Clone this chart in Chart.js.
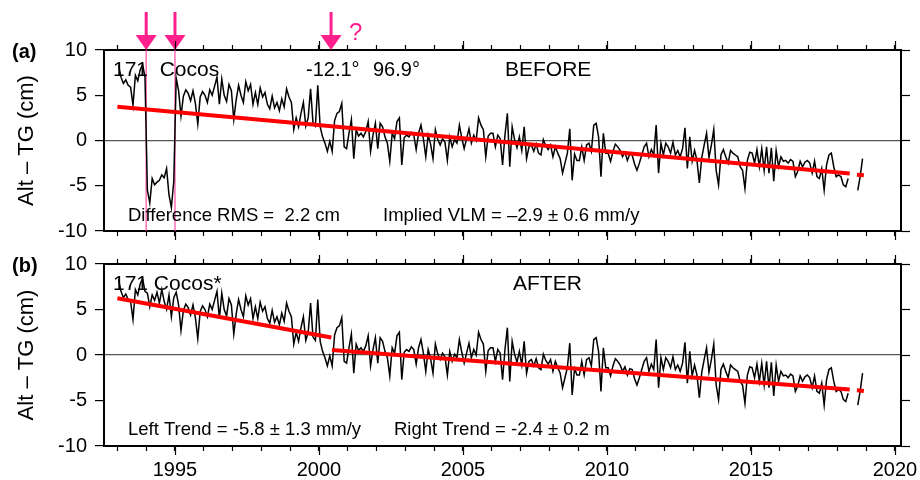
<!DOCTYPE html>
<html><head><meta charset="utf-8">
<script src="https://cdn.jsdelivr.net/npm/chart.js@4.4.1/dist/chart.umd.min.js"></script>
<style>
html,body{margin:0;padding:0;background:#fff;}
#wrap{position:relative;width:920px;height:480px;overflow:hidden;}
canvas{position:absolute;left:0;}
#cA{top:0;} #cB{top:240px;}
</style></head><body>
<div id="wrap"><canvas id="cA" width="920" height="240"></canvas><canvas id="cB" width="920" height="240"></canvas></div>
<script>
// ---------- data (cm), monthly, starting Jan 1993 ----------
const startYear = 1993;
const y1993 = [8.3, 7.0, 6.3, 6.7, 6.1, 5.9, 3.9, 7.2, 6.6, 7.8, 8.4, 7.0];
const y1994Before = [-5.5, -6.9, -4.2, -4.9, -4.6, -4.4, -3.8, -4.1, -3.1, -6.0, -7.4, -4.5];
const y1994After  = [6.8, 5.3, 6.6, 6.0, 6.9, 5.7, 7.2, 5.9, 5.0, 6.6, 4.2, 6.3];
const y1995 = [6.9, 5.5, 2.7, 4.9, 5.6, 5.2, 4.4, 5.5, 4.1, 1.8, 4.8, 5.4];
const y1996 = [5.0, 4.2, 5.6, 5.0, 6.0, 7.0, 4.0, 6.8, 5.0, 4.3, 6.2, 5.5];
const y1997 = [2.3, 4.5, 6.1, 5.0, 4.2, 6.5, 5.5, 6.2, 4.0, 5.3, 4.0, 5.8];
const y1998 = [4.8, 5.3, 4.0, 3.5, 4.9, 3.6, 4.2, 3.3, 4.6, 3.7, 5.7, 4.8];
const y1999 = [4.2, 1.2, 2.5, 1.5, 3.0, 4.2, 1.6, 2.5, 5.7, 2.0, 1.6, 6.1];
const y2000 = [1.5, 0.4, -0.3, -1.2, -0.1, -1.2, 2.2, 3.0, 3.2, 4.1, -0.7, -0.9];
const y2001 = [0.8, 2.3, -2.0, 1.2, 0.5, 0.8, 0.4, 1.0, 2.1, -1.2, 0.6, 1.9];
const y2002 = [-0.9, 1.9, 1.5, 0.4, -0.3, -2.3, 0.8, 0.2, 2.1, 2.5, -2.7, 0.3];
const y2003 = [0.6, 0.4, 0.9, 0.6, -1.0, 0.8, 1.7, 0.2, -1.8, 0.6, -0.4, -2.0];
const y2004 = [1.2, 0.1, -0.5, 0.2, -0.2, -2.2, 0.4, -0.7, 0.1, -0.3, 1.7, 0.3];
const y2005 = [-0.9, 0.2, 1.3, -0.3, 0.6, 0.0, 2.5, 1.7, 1.2, -1.8, 0.5, 0.8];
const y2006 = [0.8, -0.7, 0.6, 0.2, -2.7, 0.6, 3.0, -2.9, 1.5, 0.1, -0.8, 0.4];
const y2007 = [-1.1, 1.5, -2.0, -0.7, -0.5, -1.2, -0.4, -1.4, -1.6, 0.1, -0.6, -1.0];
const y2008 = [-0.5, -1.8, -0.7, -1.4, -2.0, -3.6, -2.5, -1.4, 1.3, -4.4, -1.5, -2.2];
const y2009 = [-2.2, -0.7, -2.2, -0.5, -0.3, -1.2, 1.7, 1.9, 0.4, -4.0, 0.8, -1.4];
const y2010 = [-1.4, -2.3, -1.2, -0.4, -0.7, -1.1, -1.8, -1.3, -2.2, -1.5, -1.6, -2.6];
const y2011 = [-3.3, -2.5, -1.6, -0.7, -0.3, -1.8, -1.0, -1.6, 1.7, -3.6, -0.3, -1.6];
const y2012 = [-0.3, -0.7, -1.4, -0.2, -1.6, -1.1, -1.8, -0.9, 1.4, -3.1, 0.4, -2.3];
const y2013 = [-1.1, -2.2, -4.7, -1.9, -0.5, 0.8, -1.9, -0.5, 1.2, -3.3, -4.9, -1.6];
const y2014 = [-1.0, -1.8, -2.5, -1.1, -1.4, -1.6, -1.8, -2.9, -3.3, -5.3, -2.2, -1.3];
const y2015 = [-1.4, -2.5, -1.0, -2.9, -0.9, -3.3, -0.7, -3.6, -0.8, -4.5, -1.1, -2.9];
const y2016 = [-1.8, -2.3, -2.2, -2.5, -2.1, -2.3, -4.0, -3.4, -2.3, -2.9, -2.4, -2.2];
const y2017 = [-2.5, -3.6, -2.3, -4.0, -4.2, -3.1, -5.5, -2.7, -1.6, -1.4, -2.9, -4.0];
const y2018 = [-3.8, -4.0, -4.9, -5.1, -4.2, null, null, null, -5.5, -4.0, -2.0];

// trend lines (year, cm)
const trendBeforeX = [1993.0, 2018.43], trendBeforeY = [3.73, -3.65];
const trendBeforeTailX = [2018.68, 2018.92], trendBeforeTailY = [-3.78, -3.85];
const trendLeftX = [1993.0, 2000.43], trendLeftY = [6.23, 1.92];
const trendRightX = [2000.45, 2018.43], trendRightY = [0.55, -3.80];
const trendRightTailX = [2018.68, 2018.92], trendRightTailY = [-3.88, -3.95];

// break epochs marked by arrows
const breakYears = [1994.0, 1995.0, 2000.42];

// axis ticks
const xTickYears = [1993,1994,1995,1996,1997,1998,1999,2000,2001,2002,2003,2004,2005,2006,2007,2008,2009,2010,2011,2012,2013,2014,2015,2016,2017,2018,2019,2020];
const yTickValues = [-10, -5, 0, 5, 10];

// ---------- build tables ----------
const restYears = [y1995,y1996,y1997,y1998,y1999,y2000,y2001,y2002,y2003,y2004,y2005,y2006,y2007,y2008,y2009,y2010,y2011,y2012,y2013,y2014,y2015,y2016,y2017,y2018];
const seriesBefore = [].concat(y1993, y1994Before, ...restYears);
const seriesAfter  = [].concat(y1993, y1994After, ...restYears);
const toPts = arr => arr.map((v, i) => ({x: startYear + (i + 0.5) / 12, y: v}));
const pair = (xs, ys) => xs.map((x, i) => ({x, y: ys[i]}));

const FONT = '"Liberation Sans", Arial, Helvetica, sans-serif';
Chart.defaults.font.family = FONT;
Chart.defaults.color = '#000';

const XMIN = 1992.535, XMAX = 2020.21;

function fixW(w){ return s => { s.width = w; s.paddingTop = 0; s.paddingBottom = 0; s.paddingLeft = 0; s.paddingRight = 0; }; }
function fixH(h){ return s => { s.height = h; s.paddingTop = 0; s.paddingBottom = 0; s.paddingLeft = 0; s.paddingRight = 0; }; }
const setXTicks = s => { s.ticks = xTickYears.map(v => ({value: v})); };
const setYTicks = s => { s.ticks = yTickValues.map(v => ({value: v})); };

function makeScales(topH, botH, showXLabels) {
  return {
    x: {
      type: 'linear', position: 'bottom', min: XMIN, max: XMAX,
      afterBuildTicks: setXTicks, afterFit: fixH(botH),
      grid: {drawOnChartArea: false, drawTicks: true, tickLength: 5, tickColor: '#000', tickWidth: 1.2},
      border: {display: true, color: '#000', width: 2},
      ticks: {display: showXLabels, autoSkip: false, maxRotation: 0, padding: 7,
              font: {size: 20}, color: '#000',
              callback: v => (v % 5 === 0 ? String(v) : '')}
    },
    xTop: {
      type: 'linear', position: 'top', min: XMIN, max: XMAX,
      afterBuildTicks: setXTicks, afterFit: fixH(topH),
      grid: {drawOnChartArea: false, drawTicks: true, tickLength: 5, tickColor: '#000', tickWidth: 1.2},
      border: {display: true, color: '#000', width: 2},
      ticks: {display: false, autoSkip: false}
    },
    y: {
      type: 'linear', position: 'left', min: -10, max: 10,
      afterBuildTicks: setYTicks, afterFit: fixW(104),
      grid: {drawOnChartArea: true, drawTicks: true, tickLength: 9, tickColor: '#000', tickWidth: 1.2,
             color: c => (c.tick && c.tick.value === 0 ? '#555' : 'rgba(0,0,0,0)'), lineWidth: 1.2},
      border: {display: true, color: '#000', width: 2},
      ticks: {padding: 8, font: {size: 20}, color: '#000'},
      title: {display: true, text: 'Alt \u2013 TG (cm)', font: {size: 22}, color: '#000', padding: {top: 14, bottom: 0}}
    },
    yRight: {
      type: 'linear', position: 'right', min: -10, max: 10,
      afterBuildTicks: setYTicks, afterFit: fixW(19),
      grid: {drawOnChartArea: false, drawTicks: true, tickLength: 9, tickColor: '#000', tickWidth: 1.2},
      border: {display: true, color: '#000', width: 2},
      ticks: {display: false}
    }
  };
}

const majorTicks = {
  id: 'majorTicks',
  afterDraw(chart) {
    const ctx = chart.ctx;
    ctx.save();
    ctx.strokeStyle = '#000'; ctx.lineWidth = 1.2;
    ['x', 'xTop'].forEach(id => {
      const s = chart.scales[id];
      xTickYears.filter(v => v % 5 === 0).forEach(v => {
        const px = Math.round(s.getPixelForValue(v)) + 0.5;
        ctx.beginPath();
        if (s.position === 'bottom') { ctx.moveTo(px, s.top); ctx.lineTo(px, s.top + 9); }
        else { ctx.moveTo(px, s.bottom); ctx.lineTo(px, s.bottom - 9); }
        ctx.stroke();
      });
    });
    ctx.restore();
  }
};

function textPlugin(items) {
  return {
    id: 'texts',
    afterDraw(chart) {
      const ctx = chart.ctx;
      ctx.save();
      ctx.textBaseline = 'alphabetic'; ctx.textAlign = 'left';
      items.forEach(t => {
        ctx.font = t.font; ctx.fillStyle = t.color || '#000';
        ctx.fillText(t.text, t.x, t.y);
      });
      ctx.restore();
    }
  };
}

const PINK = '#ff1f8c';
const breakPlugin = {
  id: 'breaks',
  beforeDatasetsDraw(chart) {
    const ctx = chart.ctx, s = chart.scales.x, a = chart.chartArea;
    ctx.save();
    ctx.strokeStyle = 'rgba(255,60,160,0.75)'; ctx.lineWidth = 1.5;
    breakYears.slice(0, 2).forEach(yr => {
      const px = s.getPixelForValue(yr);
      ctx.beginPath(); ctx.moveTo(px, a.top); ctx.lineTo(px, a.bottom); ctx.stroke();
    });
    ctx.restore();
  },
  afterDraw(chart) {
    const ctx = chart.ctx, s = chart.scales.x, a = chart.chartArea;
    ctx.save();
    ctx.fillStyle = PINK; ctx.strokeStyle = PINK;
    breakYears.forEach(yr => {
      const px = s.getPixelForValue(yr);
      ctx.lineWidth = 3;
      ctx.beginPath(); ctx.moveTo(px, 12); ctx.lineTo(px, a.top - 12); ctx.stroke();
      ctx.beginPath();
      ctx.moveTo(px - 10.5, a.top - 15); ctx.lineTo(px + 10.5, a.top - 15); ctx.lineTo(px, a.top);
      ctx.closePath(); ctx.fill();
    });
    ctx.font = '24px ' + FONT;
    ctx.fillText('?', 349, 40);
    ctx.restore();
  }
};

const lineDs = (data) => ({data, borderColor: '#000', borderWidth: 1.5, pointRadius: 0, tension: 0, spanGaps: false, order: 2});
const redDs = (data) => ({data, borderColor: '#ff0000', borderWidth: 4, pointRadius: 0, tension: 0, order: 1, borderCapStyle: 'butt'});

const commonOpts = (topH, botH, showX) => ({
  responsive: false, animation: false, devicePixelRatio: 1,
  layout: {padding: 0},
  plugins: {legend: {display: false}, tooltip: {enabled: false}, title: {display: false}},
  scales: makeScales(topH, botH, showX)
});

new Chart(document.getElementById('cA'), {
  type: 'line',
  data: {datasets: [
    lineDs(toPts(seriesBefore)),
    redDs(pair(trendBeforeX, trendBeforeY)),
    redDs(pair(trendBeforeTailX, trendBeforeTailY))
  ]},
  options: commonOpts(50, 9, false),
  plugins: [breakPlugin, majorTicks, textPlugin([
    {text: '(a)', x: 12, y: 58, font: 'bold 20px ' + FONT},
    {text: '171  Cocos', x: 113, y: 76, font: '21px ' + FONT},
    {text: '-12.1\u00b0', x: 306, y: 76, font: '20px ' + FONT},
    {text: '96.9\u00b0', x: 373, y: 76, font: '20px ' + FONT},
    {text: 'BEFORE', x: 505, y: 76, font: '21px ' + FONT},
    {text: 'Difference RMS =  2.2 cm', x: 128, y: 221, font: '18.5px ' + FONT},
    {text: 'Implied VLM = \u20132.9 \u00b1 0.6 mm/y', x: 383, y: 221, font: '18.5px ' + FONT}
  ])]
});

new Chart(document.getElementById('cB'), {
  type: 'line',
  data: {datasets: [
    lineDs(toPts(seriesAfter)),
    redDs(pair(trendLeftX, trendLeftY)),
    redDs(pair(trendRightX, trendRightY)),
    redDs(pair(trendRightTailX, trendRightTailY))
  ]},
  options: commonOpts(24, 34, true),
  plugins: [majorTicks, textPlugin([
    {text: '(b)', x: 12, y: 32, font: 'bold 20px ' + FONT},
    {text: '171 Cocos*', x: 113, y: 50, font: '21px ' + FONT},
    {text: 'AFTER', x: 513, y: 50, font: '21px ' + FONT},
    {text: 'Left Trend = -5.8 \u00b1 1.3 mm/y', x: 128, y: 195, font: '18.5px ' + FONT},
    {text: 'Right Trend = -2.4 \u00b1 0.2 m', x: 394, y: 195, font: '18.5px ' + FONT}
  ])]
});
</script>
</body></html>
